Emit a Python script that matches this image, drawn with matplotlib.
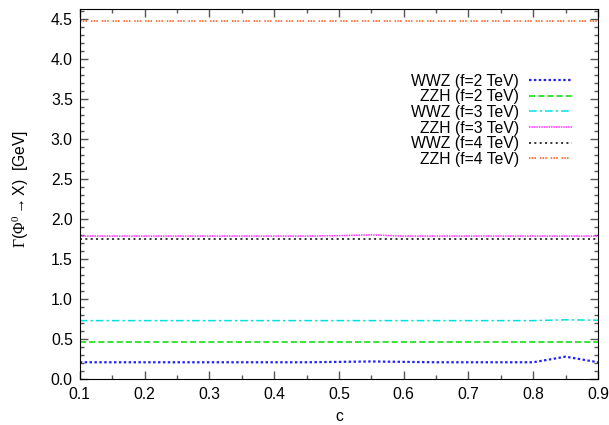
import matplotlib.pyplot as plt
from matplotlib.ticker import MultipleLocator

plt.rcParams['font.family'] = ['Liberation Sans', 'DejaVu Sans']
plt.rcParams['mathtext.fontset'] = 'custom'
plt.rcParams['mathtext.rm'] = 'Liberation Serif'
plt.rcParams['mathtext.it'] = 'Liberation Serif'

c = [0.1, 0.15, 0.2, 0.25, 0.3, 0.35, 0.4, 0.45, 0.5, 0.55, 0.6, 0.65, 0.7, 0.75, 0.8, 0.85, 0.9]

wwz_f2 = [0.21, 0.21, 0.21, 0.21, 0.21, 0.21, 0.21, 0.21, 0.215, 0.22, 0.215, 0.21, 0.21, 0.21, 0.21, 0.28, 0.21]
zzh_f2 = [0.46, 0.46, 0.46, 0.46, 0.46, 0.46, 0.46, 0.46, 0.46, 0.46, 0.46, 0.46, 0.46, 0.46, 0.46, 0.46, 0.46]
wwz_f3 = [0.73, 0.73, 0.73, 0.73, 0.73, 0.73, 0.73, 0.73, 0.73, 0.73, 0.73, 0.73, 0.73, 0.73, 0.73, 0.74, 0.735]
zzh_f3 = [1.785, 1.785, 1.785, 1.785, 1.785, 1.785, 1.785, 1.785, 1.79, 1.80, 1.785, 1.785, 1.785, 1.785, 1.785, 1.785, 1.785]
wwz_f4 = [1.75, 1.75, 1.75, 1.75, 1.75, 1.75, 1.75, 1.75, 1.75, 1.75, 1.75, 1.75, 1.75, 1.75, 1.75, 1.75, 1.75]
zzh_f4 = [4.47, 4.47, 4.47, 4.47, 4.47, 4.47, 4.47, 4.47, 4.47, 4.47, 4.47, 4.47, 4.47, 4.47, 4.47, 4.47, 4.47]

labels = ['WWZ (f=2 TeV)', 'ZZH (f=2 TeV)', 'WWZ (f=3 TeV)',
          'ZZH (f=3 TeV)', 'WWZ (f=4 TeV)', 'ZZH (f=4 TeV)']

fs = 11.3

fig = plt.figure(figsize=(6.09, 4.25), dpi=100)
ax = fig.add_axes([0.131, 0.108, 0.851, 0.871])

ax.plot(c, wwz_f2, color='#2020ff', lw=1.6, dashes=(1.1, 1.1), label=labels[0])
ax.plot(c, zzh_f2, color='#00dd00', lw=1.1, dashes=(4, 2), label=labels[1])
ax.plot(c, wwz_f3, color='#00e0e0', lw=1.1, dashes=(5, 2, 1.5, 2), label=labels[2])
ax.plot(c, zzh_f3, color='#ff30ff', lw=1.1, dashes=(1, 0.6), label=labels[3])
ax.plot(c, wwz_f4, color='black', lw=1.1, dashes=(1.3, 2.2), label=labels[4])
ax.plot(c, zzh_f4, color='#ff5010', lw=1.1, dashes=(1, 0.8, 1, 0.8, 1, 2.5), label=labels[5])

ax.set_xlim(0.1, 0.9)
ax.set_ylim(0.0, 4.62)
ax.xaxis.set_major_locator(MultipleLocator(0.1))
ax.xaxis.set_minor_locator(MultipleLocator(0.05))
ax.yaxis.set_major_locator(MultipleLocator(0.5))
ax.yaxis.set_minor_locator(MultipleLocator(0.1))
ax.xaxis.set_major_formatter(plt.FormatStrFormatter('%.1f'))
ax.yaxis.set_major_formatter(plt.FormatStrFormatter('%.1f'))
ax.tick_params(which='both', direction='in', top=True, right=True, labelsize=fs)
ax.tick_params(which='major', length=6, width=1, color='#555555')
ax.tick_params(which='minor', length=3, width=1, color='#555555')
ax.tick_params(axis='x', pad=6)
ax.tick_params(axis='y', pad=5)

ax.set_xlabel('c', fontsize=fs, labelpad=5)
ax.set_ylabel(r'$\Gamma$($\Phi^0\rightarrow$X)  [GeV]', fontsize=fs)
ax.yaxis.set_label_coords(-0.094, 0.515)

ax.legend(loc='upper right', bbox_to_anchor=(0.962, 0.842), frameon=False,
          markerfirst=False, fontsize=fs, handlelength=2.75, handletextpad=0.64,
          labelspacing=0.04, borderaxespad=0)

fig.savefig('out.png', dpi=100)
